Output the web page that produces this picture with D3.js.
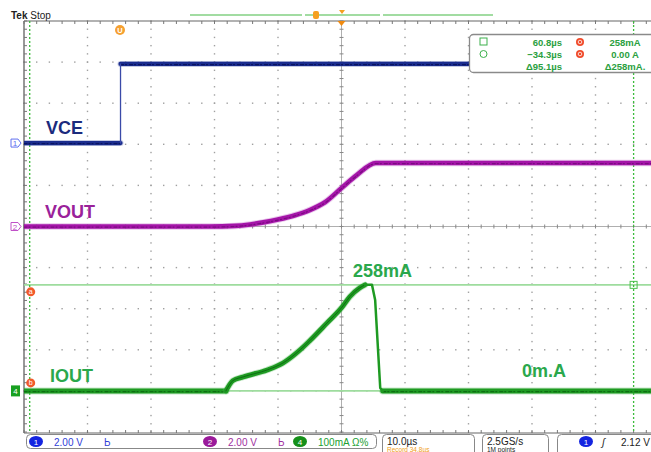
<!DOCTYPE html>
<html><head><meta charset="utf-8">
<script src="https://cdn.jsdelivr.net/npm/d3@7"></script>
<style>
html,body{margin:0;padding:0;background:#fff;}
svg{display:block;font-family:"Liberation Sans",Arial,sans-serif;}
</style>
</head><body>
<svg id="scope" width="651" height="452"></svg>
<script>
// Acquisition settings
const timePerDiv = 10;          // µs per division
const timeStart = -35.2;        // µs at left edge of graticule
const ch1Scale = 2.0, ch2Scale = 2.0, ch4Scale = 100;   // V/div, V/div, mA/div
const ch1Offset = 2.03, ch2Offset = 0.0, ch4Offset = -4.0; // ground position, divisions

// Channel 1: VCE (V)
const vceTime  = [-35.2, -20.0, -20.0, 64.8];
const vceVolts = [0, 0, 3.85, 3.85];

// Channel 2: VOUT (V)
const voutTime  = [-35.2, -6.0, -2.0, 0.4, 2.5, 4.8, 7.5, 9.8, 12.2, 14.9, 17.2, 20.2, 64.8];
const voutVolts = [0, 0, 0.03, 0.10, 0.20, 0.34, 0.55, 0.80, 1.18, 1.90, 2.50, 3.09, 3.09];

// Channel 4: IOUT (mA)
const ioutTime = [-35.2, -3.4, -2.3, -0.7, 3.1, 5.6, 8.3, 9.8, 12.5, 14.9, 16.1, 17.7, 18.5, 19.6, 20.1, 20.9, 21.3, 64.8];
const ioutMa   = [0, 0, 25, 34, 51, 68, 100, 122, 165, 204, 229, 251, 258, 258, 221, 7, 0, 0];

// Cursors
const cursorTimes = [60.8, -34.3];   // µs
const cursorLevels = [258, 0];       // mA
const readoutRows = [
  ["60.8µs", "258mA"],
  ["−34.3µs", "0.00 A"],
  ["Δ95.1µs", "Δ258mA."]
];

// Bottom status
const chanReadouts = [
  {id: "1", text: "2.00 V", x: 36, fill: "#1424e0", color: "#3040d8", bw: true},
  {id: "2", text: "2.00 V", x: 210, fill: "#9a1a9a", color: "#a030a0", bw: true},
  {id: "4", text: "100mA Ω%", x: 300, fill: "#16901a", color: "#20a030", bw: false}
];

const svg = d3.select("#scope");
const L = 24, T = 21, R = 659, B = 432;
const xDiv = d3.scaleLinear().domain([0, 10]).range([L, R]);
const yDiv = d3.scaleLinear().domain([-5, 5]).range([B, T]);
const xT = d3.scaleLinear().domain([timeStart, timeStart + 10 * timePerDiv]).range([L, R]);
const yCh = (scale, off) => v => yDiv(off + v / scale);
const y1 = yCh(ch1Scale, ch1Offset), y2 = yCh(ch2Scale, ch2Offset), y4 = yCh(ch4Scale, ch4Offset);

svg.append("defs").append("clipPath").attr("id", "plot")
  .append("rect").attr("x", L).attr("y", T).attr("width", R - L).attr("height", B - T + 1);

// Graticule dots along major lines
const g = svg.append("g");
const minorX = d3.range(0, 50.01, 1).map(i => i / 5);
const minorY = d3.range(-25, 25.01, 1).map(i => i / 5);
for (let i = 1; i < 10; i++) {
  if (i === 5) continue;
  minorY.forEach(v => g.append("rect").attr("x", xDiv(i) - 0.7).attr("y", yDiv(v) - 0.7)
    .attr("width", 1.4).attr("height", 1.4).attr("fill", "#a0a0a0"));
}
for (let j = -4; j <= 4; j++) {
  if (j === 0) continue;
  minorX.forEach(v => g.append("rect").attr("x", xDiv(v) - 0.7).attr("y", yDiv(j) - 0.7)
    .attr("width", 1.4).attr("height", 1.4).attr("fill", "#a0a0a0"));
}
// Center cross with ticks
g.append("line").attr("x1", L).attr("x2", 651).attr("y1", yDiv(0)).attr("y2", yDiv(0)).attr("stroke", "#9a9a9a").attr("stroke-width", 0.8);
g.append("line").attr("x1", xDiv(5)).attr("x2", xDiv(5)).attr("y1", T).attr("y2", B).attr("stroke", "#9a9a9a").attr("stroke-width", 0.8);
minorX.forEach(v => g.append("line").attr("x1", xDiv(v)).attr("x2", xDiv(v)).attr("y1", yDiv(0) - 2).attr("y2", yDiv(0) + 2).attr("stroke", "#888"));
minorY.forEach(v => g.append("line").attr("y1", yDiv(v)).attr("y2", yDiv(v)).attr("x1", xDiv(5) - 2).attr("x2", xDiv(5) + 2).attr("stroke", "#888"));
// Frame with inward ticks
g.append("line").attr("x1", L).attr("x2", 651).attr("y1", T).attr("y2", T).attr("stroke", "#666").attr("stroke-width", 1.2);
g.append("line").attr("x1", L).attr("x2", 651).attr("y1", B + 1).attr("y2", B + 1).attr("stroke", "#666").attr("stroke-width", 1.2);
g.append("line").attr("x1", L).attr("x2", L).attr("y1", T).attr("y2", B + 1).attr("stroke", "#555").attr("stroke-width", 1.2);
minorX.forEach(v => {
  g.append("line").attr("x1", xDiv(v)).attr("x2", xDiv(v)).attr("y1", T).attr("y2", T + 3).attr("stroke", "#777");
  g.append("line").attr("x1", xDiv(v)).attr("x2", xDiv(v)).attr("y1", B + 1).attr("y2", B - 2).attr("stroke", "#777");
});
minorY.forEach(v => g.append("line").attr("y1", yDiv(v)).attr("y2", yDiv(v)).attr("x1", L).attr("x2", L + 3).attr("stroke", "#777"));

// Cursors
const cur = svg.append("g").attr("clip-path", "url(#plot)");
cursorLevels.forEach(v => cur.append("line").attr("x1", L).attr("x2", 651).attr("y1", y4(v)).attr("y2", y4(v))
  .attr("stroke", "#9edc9e").attr("stroke-width", 1.6));
cursorTimes.forEach(t => cur.append("line").attr("x1", xT(t)).attr("x2", xT(t)).attr("y1", T).attr("y2", B + 1)
  .attr("stroke", "#3cbc3c").attr("stroke-width", 1.3).attr("stroke-dasharray", "2,2"));

// Traces: a soft halo, the body and a darker textured core
const tr = svg.append("g").attr("clip-path", "url(#plot)");
function stroke(d, color, w, extra) {
  const p = tr.append("path").attr("d", d).attr("fill", "none").attr("stroke", color).attr("stroke-width", w)
    .attr("stroke-linejoin", "round").attr("stroke-linecap", "round");
  if (extra) extra(p);
  return p;
}
function texture(d, color, dy) {
  stroke(d, color, 1.2, p => p.attr("stroke-dasharray", "3,2,1,3").attr("transform", `translate(0,${dy})`));
}
const smooth = d3.line().curve(d3.curveMonotoneX);
const straight = d3.line();

// VCE: step drawn with a thin vertical edge
{
  const pts = vceTime.map((t, i) => [xT(t), y1(vceVolts[i])]);
  const low = straight(pts.slice(0, 2)), high = straight(pts.slice(2));
  [low, high].forEach(d => { stroke(d, "#5a66b0", 6, p => p.attr("opacity", 0.35)); stroke(d, "#1a2c8e", 4.2); texture(d, "#0a1460", 0.6); });
  stroke(straight(pts.slice(1, 3)), "#3a4aa8", 1.3);
}
// VOUT
{
  const pts = voutTime.map((t, i) => [xT(t), y2(voutVolts[i])]);
  const d = smooth(pts);
  stroke(d, "#c060c8", 6.5, p => p.attr("opacity", 0.35));
  stroke(d, "#a414a8", 4.6);
  texture(d, "#7a0c80", 0.6);
}
// IOUT: flat tails, smooth pulse, steep fall
{
  const pts = ioutTime.map((t, i) => [xT(t), y4(ioutMa[i])]);
  const pulse = pts.slice(1, 13), fall = pts.slice(12, 17);
  const tails = [straight(pts.slice(0, 2)), straight(pts.slice(16))];
  tails.forEach(d => { stroke(d, "#5cc060", 7, p => p.attr("opacity", 0.35)); stroke(d, "#1e9a22", 5); texture(d, "#0e6e12", 0.8); });
  const dp = smooth(pulse);
  stroke(dp, "#5cc060", 6.5, p => p.attr("opacity", 0.35));
  stroke(dp, "#1e9a22", 4.8);
  stroke(dp, "#0e6e12", 1);
  stroke(straight(fall), "#1e9a22", 2.5);
}

// Trace labels
const lab = svg.append("g").attr("font-weight", "bold").attr("font-size", 18);
lab.append("text").attr("x", 46).attr("y", 134).attr("fill", "#1b2b7d").text("VCE");
lab.append("text").attr("x", 45).attr("y", 218).attr("fill", "#9a229a").text("VOUT");
lab.append("text").attr("x", 50).attr("y", 382).attr("fill", "#2aa84c").text("IOUT");
const peak = d3.max(ioutMa);
lab.append("text").attr("x", 353).attr("y", 277).attr("fill", "#2aa84c").text(peak + "mA");
lab.append("text").attr("x", 522).attr("y", 377).attr("fill", "#2aa84c").text("0m.A");

// Ground markers on the left
function chanTag(yv, color, id) {
  svg.append("path").attr("d", `M11,${yv - 4}H18L21,${yv}L18,${yv + 4}H11Z`).attr("fill", "#fff").attr("stroke", color).attr("stroke-width", 1);
  svg.append("text").attr("x", 15).attr("y", yv + 3).attr("text-anchor", "middle").attr("font-size", 8).attr("fill", color).text(id);
}
chanTag(y1(0), "#6070f0", "1");
chanTag(y2(0), "#c050c8", "2");
svg.append("rect").attr("x", 11).attr("y", y4(0) - 5.5).attr("width", 9).attr("height", 11).attr("fill", "#18a020");
svg.append("text").attr("x", 15.5).attr("y", y4(0) + 3.5).attr("text-anchor", "middle").attr("font-size", 8).attr("fill", "#fff").text("4");

// Cursor handles
function orangeDot(x, y, r, letter) {
  svg.append("circle").attr("cx", x).attr("cy", y).attr("r", r).attr("fill", "#f15a2a");
  svg.append("text").attr("x", x).attr("y", y + 2.5).attr("text-anchor", "middle").attr("font-size", 7).attr("fill", "#fff").text(letter);
}
orangeDot(xT(cursorTimes[1]) + 1, y4(cursorLevels[0]) + 7, 4.5, "a");
orangeDot(xT(cursorTimes[1]) + 1, y4(cursorLevels[1]) - 8, 4.5, "b");
svg.append("rect").attr("x", xT(cursorTimes[0]) - 3.5).attr("y", y4(cursorLevels[0]) - 3.5).attr("width", 7).attr("height", 7)
  .attr("fill", "none").attr("stroke", "#4cc04c").attr("stroke-width", 1);

// Cursor readout box
const rb = svg.append("g");
rb.append("rect").attr("x", 469.5).attr("y", 34.5).attr("width", 200).attr("height", 38).attr("rx", 4)
  .attr("fill", "#fff").attr("stroke", "#8a8a8a").attr("stroke-width", 1.3);
rb.append("rect").attr("x", 480).attr("y", 38).attr("width", 7).attr("height", 7).attr("fill", "none").attr("stroke", "#3cb04c");
rb.append("circle").attr("cx", 483.5).attr("cy", 54).attr("r", 3.5).attr("fill", "none").attr("stroke", "#3cb04c");
readoutRows.forEach((r, i) => {
  const yy = 45.5 + i * 12;
  rb.append("text").attr("x", 562).attr("y", yy).attr("text-anchor", "end").attr("font-size", 9.5).attr("font-weight", "bold").attr("fill", "#2aa040").text(r[0]);
  rb.append("text").attr("x", 625).attr("y", yy).attr("text-anchor", "middle").attr("font-size", 9.5).attr("font-weight", "bold").attr("fill", "#2aa040").text(r[1]);
  if (i < 2) {
    rb.append("circle").attr("cx", 580).attr("cy", yy - 3.5).attr("r", 4).attr("fill", "#f04a2a");
    rb.append("circle").attr("cx", 580).attr("cy", yy - 3.5).attr("r", 1.8).attr("fill", "none").attr("stroke", "#fff").attr("stroke-width", 0.8);
  }
});

// Header: status, record bar, trigger markers
svg.append("text").attr("x", 11).attr("y", 19).attr("font-size", 10).attr("fill", "#222")
  .html('<tspan font-weight="bold">Tek</tspan> Stop');
[[190, 302], [305, 380], [383, 493]].forEach(s => svg.append("line").attr("x1", s[0]).attr("x2", s[1]).attr("y1", 15).attr("y2", 15)
  .attr("stroke", "#a2dca2").attr("stroke-width", 2));
svg.append("rect").attr("x", 313).attr("y", 11).attr("width", 6).attr("height", 8).attr("rx", 2).attr("fill", "#f5a020");
svg.append("path").attr("d", `M339,10H345L342,14Z`).attr("fill", "#f5a020");
svg.append("path").attr("d", `M${xDiv(5) - 4},${T}H${xDiv(5) + 4}L${xDiv(5)},${T + 5}Z`).attr("fill", "#f08a10");
svg.append("circle").attr("cx", 120).attr("cy", 30).attr("r", 5).attr("fill", "#f5a030");
svg.append("text").attr("x", 120).attr("y", 33).attr("text-anchor", "middle").attr("font-size", 7.5).attr("font-weight", "bold").attr("fill", "#fff").text("U");

// Bottom status bar
const sb = svg.append("g").attr("font-size", 10);
sb.append("rect").attr("x", 26.5).attr("y", 434.5).attr("width", 350).attr("height", 14).attr("rx", 4).attr("fill", "#fff").attr("stroke", "#888");
chanReadouts.forEach(c => {
  sb.append("ellipse").attr("cx", c.x).attr("cy", 441.5).attr("rx", 7).attr("ry", 5.5).attr("fill", c.fill);
  sb.append("text").attr("x", c.x).attr("y", 445).attr("text-anchor", "middle").attr("font-size", 8).attr("fill", "#fff").text(c.id);
  sb.append("text").attr("x", c.x + 18).attr("y", 445.5).attr("fill", c.color).text(c.text);
  if (c.bw) sb.append("text").attr("x", c.x + 68).attr("y", 445.5).attr("fill", c.color).text("Ь");
});
sb.append("rect").attr("x", 382.5).attr("y", 434.5).attr("width", 92).attr("height", 22).attr("rx", 4).attr("fill", "#fff").attr("stroke", "#888");
sb.append("text").attr("x", 387).attr("y", 444.5).attr("fill", "#222").text("10.0µs");
sb.append("text").attr("x", 387).attr("y", 451.5).attr("font-size", 6.5).attr("fill", "#f0a020").text("Record 34.8µs");
sb.append("rect").attr("x", 482.5).attr("y", 434.5).attr("width", 66).attr("height", 22).attr("rx", 4).attr("fill", "#fff").attr("stroke", "#888");
sb.append("text").attr("x", 487).attr("y", 444.5).attr("fill", "#222").text("2.5GS/s");
sb.append("text").attr("x", 487).attr("y", 451.5).attr("font-size", 6.5).attr("fill", "#222").text("1M points");
sb.append("rect").attr("x", 557.5).attr("y", 434.5).attr("width", 110).attr("height", 22).attr("rx", 4).attr("fill", "#fff").attr("stroke", "#888");
sb.append("ellipse").attr("cx", 586).attr("cy", 441.5).attr("rx", 7).attr("ry", 5.5).attr("fill", "#1424e0");
sb.append("text").attr("x", 586).attr("y", 445).attr("text-anchor", "middle").attr("font-size", 8).attr("fill", "#fff").text("1");
sb.append("text").attr("x", 602).attr("y", 445.5).attr("fill", "#222").attr("font-style", "italic").text("ʃ");
sb.append("text").attr("x", 621).attr("y", 445.5).attr("fill", "#222").text("2.12 V");
</script>
</body></html>
